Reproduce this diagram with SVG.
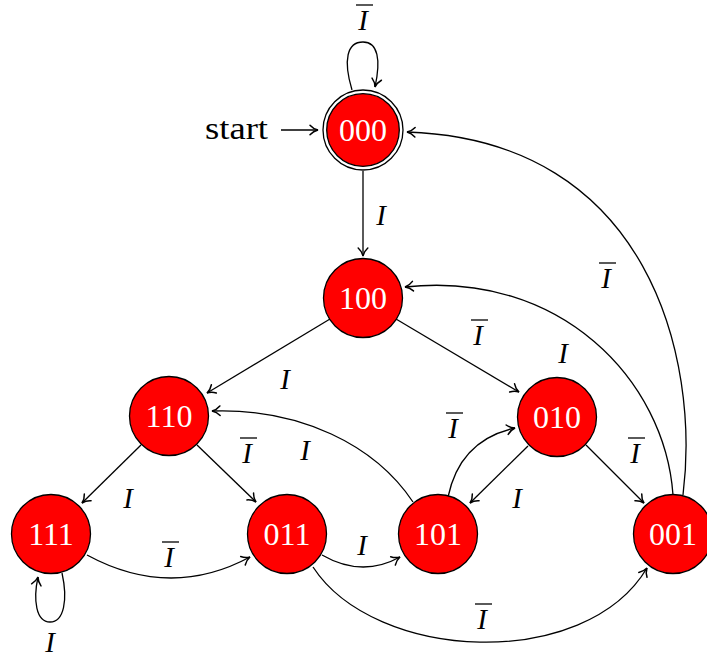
<svg xmlns="http://www.w3.org/2000/svg" width="707" height="657" viewBox="0 0 707 657">
<defs>
<marker id="arr" markerUnits="userSpaceOnUse" markerWidth="12" markerHeight="12" viewBox="-9 -6 12 12" refX="0" refY="0" orient="auto" overflow="visible">
<path d="M -8,-4.8 C -5.5,-2 -2.2,-0.5 0,0 C -2.2,0.5 -5.5,2 -8,4.8" fill="none" stroke="#000" stroke-width="1.5" stroke-linecap="round"/>
</marker>
</defs>
<style>
.node{fill:#ff0000;stroke:#000;stroke-width:1.3}
.ring{fill:#fff;stroke:#000;stroke-width:1.3}
.nt{font-family:"Liberation Serif",serif;font-size:32px;fill:#fff;text-anchor:middle}
.e{fill:none;stroke:#000;stroke-width:1.3;marker-end:url(#arr)}
.lbl{font-family:"Liberation Serif",serif;font-style:italic;font-size:29px;fill:#000;text-anchor:middle}
.bar{stroke:#000;stroke-width:1.3}
.st{font-family:"Liberation Serif",serif;font-size:31px;fill:#000}
</style>
<rect width="707" height="657" fill="#fff"/>
<g id="connectors">
<path class="e" d="M 281,130 L 318,130"/>
<path class="e" d="M 352,90 C 343,60 347,42 363,42 C 378,42 381,60 375,87"/>
<path class="e" d="M 363,171 L 363,256"/>
<path class="e" d="M 330,319 L 207,393"/>
<path class="e" d="M 396,319 L 519,392"/>
<path class="e" d="M 141,445 L 82,503"/>
<path class="e" d="M 197,445 L 256,502"/>
<path class="e" d="M 528,446 L 470,503"/>
<path class="e" d="M 586,445 L 644,503"/>
<path class="e" d="M 87,555 Q 170,600 250,557"/>
<path class="e" d="M 322,555 Q 362,578 400,557"/>
<path class="e" d="M 313,567 C 375,662 585,672 647,568"/>
<path class="e" d="M 413,502 C 375,445 300,408 212,411"/>
<path class="e" d="M 448,497 Q 460,440 515,428"/>
<path class="e" d="M 673,495 C 665,380 560,270 405,287"/>
<path class="e" d="M 683,495 C 700,360 650,140 407,132"/>
<path class="e" d="M 62,573 C 68,600 64,622 50,622 C 36,622 33,600 38,577"/>
</g>
<g id="labels">
<text class="st" x="205" y="139" textLength="63" lengthAdjust="spacingAndGlyphs">start</text>
<text class="lbl" x="363" y="30">I</text><line class="bar" x1="356" y1="5" x2="373" y2="5"/>
<text class="lbl" x="381" y="225">I</text>
<text class="lbl" x="285" y="389">I</text>
<text class="lbl" x="478" y="345">I</text><line class="bar" x1="471" y1="320" x2="488" y2="320"/>
<text class="lbl" x="563" y="363">I</text>
<text class="lbl" x="606" y="288">I</text><line class="bar" x1="599" y1="263" x2="616" y2="263"/>
<text class="lbl" x="128" y="508">I</text>
<text class="lbl" x="247" y="463">I</text><line class="bar" x1="240" y1="438" x2="257" y2="438"/>
<text class="lbl" x="305" y="460">I</text>
<text class="lbl" x="453" y="438">I</text><line class="bar" x1="446" y1="413" x2="463" y2="413"/>
<text class="lbl" x="517" y="508">I</text>
<text class="lbl" x="635" y="463">I</text><line class="bar" x1="628" y1="438" x2="645" y2="438"/>
<text class="lbl" x="169" y="567">I</text><line class="bar" x1="162" y1="542" x2="179" y2="542"/>
<text class="lbl" x="362" y="555">I</text>
<text class="lbl" x="50" y="652">I</text>
<text class="lbl" x="482" y="629">I</text><line class="bar" x1="475" y1="604" x2="492" y2="604"/>
</g>
<g id="n000"><circle class="ring" cx="363" cy="130" r="40"/><circle class="node" cx="363" cy="130" r="36.3"/><text class="nt" x="363" y="141">000</text></g>
<g id="n100"><circle class="node" cx="363" cy="298" r="39.5"/><text class="nt" x="363" y="309">100</text></g>
<g id="n110"><circle class="node" cx="169" cy="416" r="39.5"/><text class="nt" x="169" y="427">110</text></g>
<g id="n010"><circle class="node" cx="557" cy="417" r="39.5"/><text class="nt" x="557" y="428">010</text></g>
<g id="n111"><circle class="node" cx="51" cy="534" r="39.5"/><text class="nt" x="51" y="545">111</text></g>
<g id="n011"><circle class="node" cx="287" cy="534" r="39.5"/><text class="nt" x="287" y="545">011</text></g>
<g id="n101"><circle class="node" cx="438" cy="534" r="39.5"/><text class="nt" x="438" y="545">101</text></g>
<g id="n001"><circle class="node" cx="673" cy="534" r="39.5"/><text class="nt" x="673" y="545">001</text></g>
</svg>
